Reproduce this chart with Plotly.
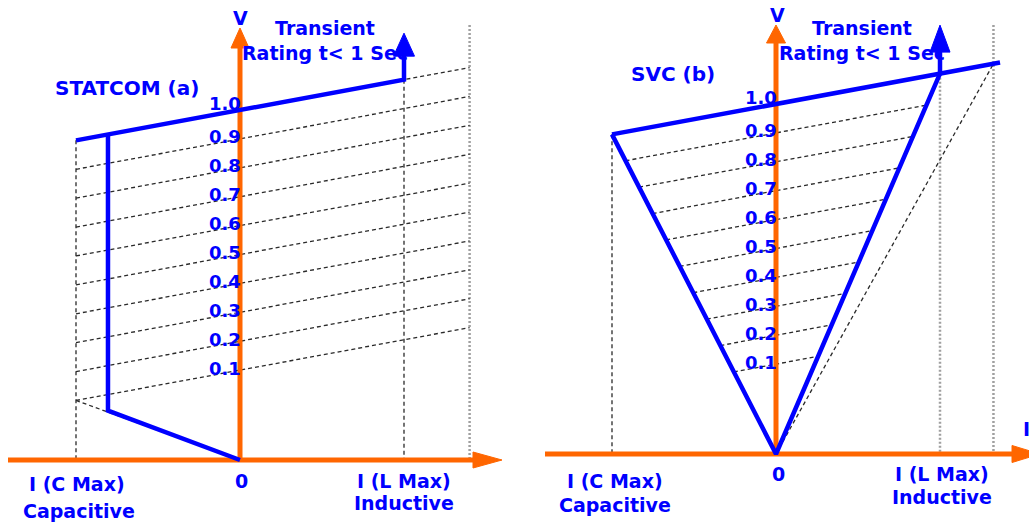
import plotly.graph_objects as go

# ---------------- data (per-unit, schematic V-I characteristics) ----------------
V_LEVELS = [0.1, 0.2, 0.3, 0.4, 0.5, 0.6, 0.7, 0.8, 0.9, 1.0]
V_LABELS = ["0.1", "0.2", "0.3", "0.4", "0.5", "0.6", "0.7", "0.8", "0.9", "1.0"]
I_CAP_MAX = -1.0          # I (C Max), capacitive limit
I_IND_MAX = 1.0           # I (L Max), inductive limit
SLOPE = 0.105             # droop of the V-I characteristic (pu V per pu I)
V_AXIS_BASE = -0.211      # V-scale value at which the I axis sits
# STATCOM (a)
STATCOM_I_LIMIT = -0.805
STATCOM_KNEE_V = -0.04
STATCOM_TRANSIENT_V = 1.266
STATCOM_EXTRA_I = 1.40
STATCOM_EXTRA_TOP_V = 1.294
# SVC (b)
SVC_TOP_I = 1.366
SVC_EXTRA_I = 1.326
SVC_EXTRA_TOP_V = 1.273
SVC_TRANSIENT_V = 1.273

# ---------------- geometry / style ----------------
W, H = 1029, 526
PX_I, PX_V = 164.0, 289.0
ORIG = {"a": (240.0, 460.0), "b": (776.0, 454.0)}
SPLIT = 520.0
BLUE = "#0000ff"
ORANGE = "#ff6600"
DASH_C = "#2a2a2a"
DOT_C = "#a0a0a0"
FONT = "DejaVu Sans"

AX = {"a": ("x", "y"), "b": ("x2", "y2")}


def d2(panel, px, py):
    ox, oy = ORIG[panel]
    return (px - ox) / PX_I, V_AXIS_BASE + (oy - py) / PX_V


def lv(level, i):
    return level + SLOPE * i


fig = go.Figure()


def seg(panel, xs, ys, color, width, dash="solid"):
    xa, ya = AX[panel]
    fig.add_trace(go.Scatter(x=xs, y=ys, mode="lines", xaxis=xa, yaxis=ya,
                             line=dict(color=color, width=width, dash=dash),
                             hoverinfo="skip", showlegend=False))


def head(panel, tx, ty, direction, length_px, half_px, color):
    xa, ya = AX[panel]
    if direction == "up":
        dl = length_px / PX_V
        dw = half_px / PX_I
        xs = [tx, tx - dw, tx + dw, tx]
        ys = [ty, ty - dl, ty - dl, ty]
    else:
        dl = length_px / PX_I
        dw = half_px / PX_V
        xs = [tx, tx - dl, tx - dl, tx]
        ys = [ty, ty + dw, ty - dw, ty]
    fig.add_trace(go.Scatter(x=xs, y=ys, mode="lines", fill="toself", fillcolor=color,
                             xaxis=xa, yaxis=ya, line=dict(color=color, width=1),
                             hoverinfo="skip", showlegend=False))


def text_trace(panel, x, y, txt, size=18):
    xa, ya = AX[panel]
    fig.add_trace(go.Scatter(x=[x], y=[y], mode="text", text=[txt], xaxis=xa, yaxis=ya,
                             textposition="middle center",
                             textfont=dict(family=FONT, size=size, color=BLUE, weight="bold"),
                             hoverinfo="skip", showlegend=False))


DASH = "4px,3px"
DOT = "2px,2px"
DW = 1.3

# ======================= panel (a) STATCOM =======================
p = "a"
seg(p, [I_CAP_MAX, I_CAP_MAX], [lv(1.0, I_CAP_MAX), V_AXIS_BASE], DASH_C, DW, DASH)
seg(p, [I_IND_MAX, I_IND_MAX], [lv(1.0, I_IND_MAX), V_AXIS_BASE], DASH_C, DW, DASH)
seg(p, [STATCOM_EXTRA_I, STATCOM_EXTRA_I], [STATCOM_EXTRA_TOP_V, V_AXIS_BASE], DOT_C, 2.5, DOT)
xs, ys = [], []
for L in V_LEVELS:
    xs += [I_CAP_MAX, STATCOM_EXTRA_I, None]
    ys += [lv(L, I_CAP_MAX), lv(L, STATCOM_EXTRA_I), None]
seg(p, xs, ys, DASH_C, DW, DASH)
seg(p, [I_CAP_MAX, 0], [lv(V_LEVELS[0], I_CAP_MAX), V_AXIS_BASE], DASH_C, DW, DASH)

x_lo, _ = d2(p, 8, 0)
x_tip, _ = d2(p, 502, 0)
_, v_tip = d2(p, 0, 28)
seg(p, [x_lo, x_tip - 20 / PX_I], [V_AXIS_BASE, V_AXIS_BASE], ORANGE, 5)
head(p, x_tip, V_AXIS_BASE, "right", 29, 8, ORANGE)
seg(p, [0, 0], [V_AXIS_BASE, v_tip - 15 / PX_V], ORANGE, 5)
head(p, 0, v_tip, "up", 20, 9, ORANGE)

_, ty1 = d2(p, 0, 30)
_, ty2 = d2(p, 0, 55)
tx, _ = d2(p, 325, 0)
text_trace(p, tx, ty1, "Transient", 19)
text_trace(p, tx, ty2, "Rating t< 1 Sec", 19)

seg(p, [I_CAP_MAX, I_IND_MAX, I_IND_MAX],
    [lv(1.0, I_CAP_MAX), lv(1.0, I_IND_MAX), STATCOM_TRANSIENT_V - 15 / PX_V], BLUE, 4.5)
head(p, I_IND_MAX, STATCOM_TRANSIENT_V, "up", 23, 10.5, BLUE)
seg(p, [STATCOM_I_LIMIT, STATCOM_I_LIMIT, 0],
    [lv(1.0, STATCOM_I_LIMIT), STATCOM_KNEE_V, V_AXIS_BASE], BLUE, 4.5)

# ======================= panel (b) SVC =======================
p = "b"
seg(p, [I_CAP_MAX, I_CAP_MAX], [lv(1.0, I_CAP_MAX), V_AXIS_BASE], DASH_C, DW, DASH)
seg(p, [I_IND_MAX, I_IND_MAX], [lv(1.0, I_IND_MAX), V_AXIS_BASE], DOT_C, 2.5, DOT)
seg(p, [SVC_EXTRA_I, SVC_EXTRA_I], [SVC_EXTRA_TOP_V, V_AXIS_BASE], DOT_C, 2.5, DOT)
seg(p, [0, SVC_EXTRA_I], [V_AXIS_BASE, lv(1.0, SVC_EXTRA_I)], DASH_C, DW, DASH)

v_left = lv(1.0, I_CAP_MAX)
v_right = lv(1.0, I_IND_MAX)
kl = (v_left - V_AXIS_BASE) / I_CAP_MAX
kr = (v_right - V_AXIS_BASE) / I_IND_MAX
xs, ys = [], []
for L in V_LEVELS[:-1]:
    il = (L - V_AXIS_BASE) / (kl - SLOPE)
    il = max(il, I_CAP_MAX)
    ir = (L - V_AXIS_BASE) / (kr - SLOPE)
    xs += [il, ir, None]
    ys += [lv(L, il), lv(L, ir), None]
seg(p, xs, ys, DASH_C, DW, DASH)

x_lo, _ = d2(p, 545, 0)
x_tip, _ = d2(p, 1040, 0)
_, v_tip = d2(p, 0, 25)
seg(p, [x_lo, x_tip - 20 / PX_I], [V_AXIS_BASE, V_AXIS_BASE], ORANGE, 5)
head(p, x_tip, V_AXIS_BASE, "right", 28, 8.5, ORANGE)
seg(p, [0, 0], [V_AXIS_BASE, v_tip - 14 / PX_V], ORANGE, 5)
head(p, 0, v_tip, "up", 18, 9.5, ORANGE)

_, ty1 = d2(p, 0, 30)
_, ty2 = d2(p, 0, 55)
tx, _ = d2(p, 862, 0)
text_trace(p, tx, ty1, "Transient", 19)
text_trace(p, tx, ty2, "Rating t< 1 Sec", 19)

seg(p, [I_CAP_MAX, SVC_TOP_I], [lv(1.0, I_CAP_MAX), lv(1.0, SVC_TOP_I)], BLUE, 4.5)
seg(p, [I_CAP_MAX, 0, I_IND_MAX], [lv(1.0, I_CAP_MAX), V_AXIS_BASE, lv(1.0, I_IND_MAX)], BLUE, 4.5)
seg(p, [I_IND_MAX, I_IND_MAX], [lv(1.0, I_IND_MAX), SVC_TRANSIENT_V - 18 / PX_V], BLUE, 4.5)
head(p, I_IND_MAX, SVC_TRANSIENT_V, "up", 27, 10, BLUE)

# ---------------- annotations ----------------
ann = []


def label(panel, px, py, txt, size=18, xanchor="center"):
    x, y = d2(panel, px, py)
    xa, ya = AX[panel]
    ann.append(dict(x=x, y=y, xref=xa, yref=ya, text=txt, showarrow=False,
                    xanchor=xanchor, yanchor="middle",
                    font=dict(family=FONT, size=size, color=BLUE, weight="bold")))


for panel in ("a", "b"):
    xa, ya = AX[panel]
    for L, t in zip(V_LEVELS, V_LABELS):
        ann.append(dict(x=0, y=L, xref=xa, yref=ya, text=t, showarrow=False,
                        xanchor="right", yanchor="middle", xshift=3,
                        yshift=7 if t == "1.0" else 2,
                        font=dict(family=FONT, size=18, color=BLUE, weight="bold")))

label("a", 240, 18, "V", 19)
label("a", 127, 88, "STATCOM (a)", 20)
label("a", 77, 484, "I (C Max)", 19)
label("a", 79, 511, "Capacitive", 19)
label("a", 241, 481, "0", 19)
label("a", 404, 481, "I (L Max)", 19)
label("a", 404, 503, "Inductive", 19)

label("b", 777, 15, "V", 19)
label("b", 673, 74, "SVC (b)", 20)
label("b", 615, 481, "I (C Max)", 19)
label("b", 615, 505, "Capacitive", 19)
label("b", 778, 474, "0", 19)
label("b", 942, 474, "I (L Max)", 19)
label("b", 942, 497, "Inductive", 19)
label("b", 1026, 429, "I", 19)

ra0 = d2("a", 0, H)
ra1 = d2("a", SPLIT, 0)
rb0 = d2("b", SPLIT, H)
rb1 = d2("b", W, 0)

ax_common = dict(visible=False, showgrid=False, zeroline=False, fixedrange=True)
fig.update_layout(
    width=W, height=H,
    margin=dict(l=0, r=0, t=0, b=0),
    paper_bgcolor="white", plot_bgcolor="white",
    showlegend=False,
    xaxis=dict(domain=[0, SPLIT / W], range=[ra0[0], ra1[0]], **ax_common),
    yaxis=dict(domain=[0, 1], range=[ra0[1], ra1[1]], **ax_common),
    xaxis2=dict(domain=[SPLIT / W, 1], range=[rb0[0], rb1[0]], **ax_common),
    yaxis2=dict(domain=[0, 1], range=[rb0[1], rb1[1]], anchor="x2", **ax_common),
    annotations=ann,
)
fig.update_traces(cliponaxis=False)

fig.write_html("out.html", config={"displayModeBar": False},
               post_script="document.body.style.margin='0px';document.body.style.overflow='hidden';")
